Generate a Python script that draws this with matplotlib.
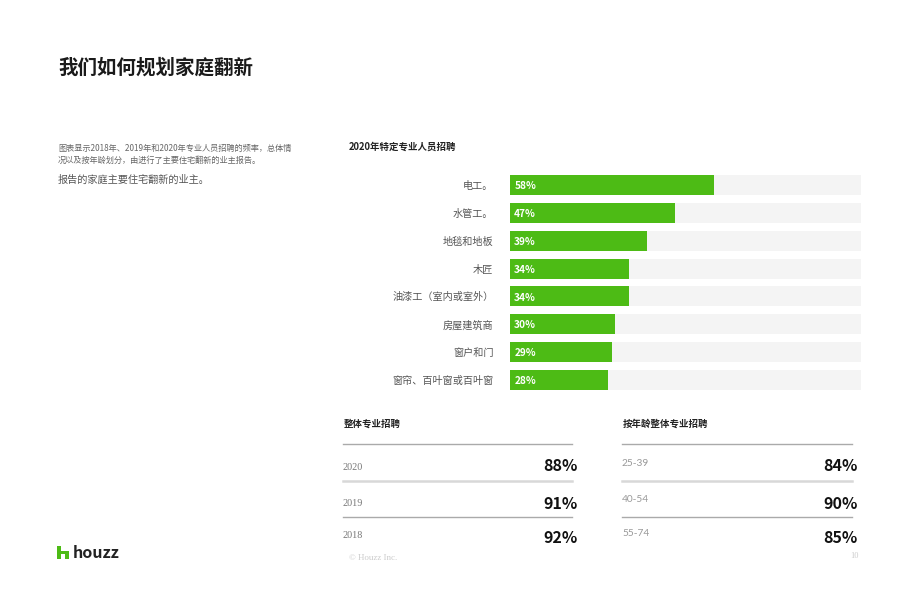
import matplotlib
matplotlib.use('Agg')
import matplotlib.pyplot as plt
from matplotlib.patches import Rectangle

plt.rcParams['font.family'] = ['Noto Sans CJK SC', 'DejaVu Sans']

# 2020年特定专业人员招聘
trades = ['电工。', '水管工。', '地毯和地板', '木匠', '油漆工（室内或室外）',
          '房屋建筑商', '窗户和门', '窗帘、百叶窗或百叶窗']
trade_pct = [58, 47, 39, 34, 34, 30, 29, 28]

# 整体专业招聘
years = ['2020', '2019', '2018']
year_pct = [88, 91, 92]

# 按年龄整体专业招聘
ages = ['25-39', '40-54', '55-74']
age_pct = [84, 90, 85]

GREEN = '#4dbb15'
W, H = 920, 596

fig = plt.figure(figsize=(W / 100, H / 100), dpi=100)
fig.patch.set_facecolor('white')


def fx(x):
    return x / W


def fy(y):
    return 1 - y / H


def txt(x, y, s, **kw):
    kw.setdefault('va', 'center')
    fig.text(fx(x), fy(y), s, **kw)


# header
txt(58, 68, '我们如何规划家庭翻新', fontsize=14, fontweight='bold', color='#1a1a1a')
txt(58, 148, '图表显示2018年、2019年和2020年专业人员招聘的频率，总体情', fontsize=5.9, color='#666666')
txt(58, 160, '况以及按年龄划分，由进行了主要住宅翻新的业主报告。', fontsize=5.9, color='#666666')
txt(58, 180, '报告的家庭主要住宅翻新的业主。', fontsize=7.3, color='#555555')

# bar chart
txt(349, 147, '2020年特定专业人员招聘', fontsize=6.8, fontweight='bold', color='#222222')
ax = fig.add_axes([fx(510), fy(394), fx(861) - fx(510), (394 - 171) / H])
pos = list(range(len(trades)))
ax.barh(pos, [100] * len(trades), height=0.72, color='#f4f4f4', zorder=1)
ax.barh(pos, trade_pct, height=0.72, color=GREEN, zorder=2)
for p, v in zip(pos, trade_pct):
    ax.text(1.2, p + 0.04, f'{v}%', color='white', fontsize=7.3, fontweight='bold',
            va='center', ha='left', zorder=3)
ax.set_xlim(0, 100)
ax.set_ylim(len(trades) - 0.5, -0.5)
ax.set_yticks(pos)
ax.set_yticklabels(trades, fontsize=7.3, color='#555555')
ax.tick_params(axis='y', length=0, pad=12)
ax.set_xticks([])
for s in ax.spines.values():
    s.set_visible(False)


# bottom tables
def table(x0, x1, title, labels, values, label_font, label_color, label_y, value_y):
    txt(x0 + 1, 424, title, fontsize=6.8, fontweight='bold', color='#222222')
    line_y = [444, 481, 517]
    line_c = ['#aaaaaa', '#d8d8d8', '#aaaaaa']
    line_w = [1.0, 1.8, 1.0]
    for ly, lc, lw in zip(line_y, line_c, line_w):
        fig.add_artist(plt.Line2D([fx(x0), fx(x1)], [fy(ly), fy(ly)], color=lc, lw=lw))
    for lab, val, ly, vy in zip(labels, values, label_y, value_y):
        txt(x0, ly, lab, fontsize=7.3, color=label_color, family=label_font)
        txt(x1 + 6, vy, f'{val}%', fontsize=11.5, fontweight='bold', color='#111111',
            ha='right')


table(343, 572, '整体专业招聘', years, year_pct,
      ['Liberation Serif', 'DejaVu Serif'], '#777777', [467, 503, 536], [466, 504, 538])
table(622, 852, '按年龄整体专业招聘', ages, age_pct,
      ['Lato', 'DejaVu Sans'], '#999999', [463, 500, 533], [466, 504, 538])

# footer
txt(349, 558, '© Houzz Inc.', fontsize=6.5, color='#cccccc', family=['Liberation Serif', 'DejaVu Serif'])
txt(859, 556, '10', fontsize=6, color='#cccccc', ha='right', family=['Liberation Serif', 'DejaVu Serif'])

# houzz logo
for (rx, ry, rw, rh) in [(57, 546, 4, 13), (61, 551, 8, 3), (65, 551, 4, 8)]:
    fig.add_artist(Rectangle((fx(rx), fy(ry + rh)), rw / W, rh / H, color=GREEN, lw=0))
txt(73, 553, 'houzz', fontsize=11.5, fontweight='bold', color='#222222')

fig.savefig('out.png', dpi=100)
